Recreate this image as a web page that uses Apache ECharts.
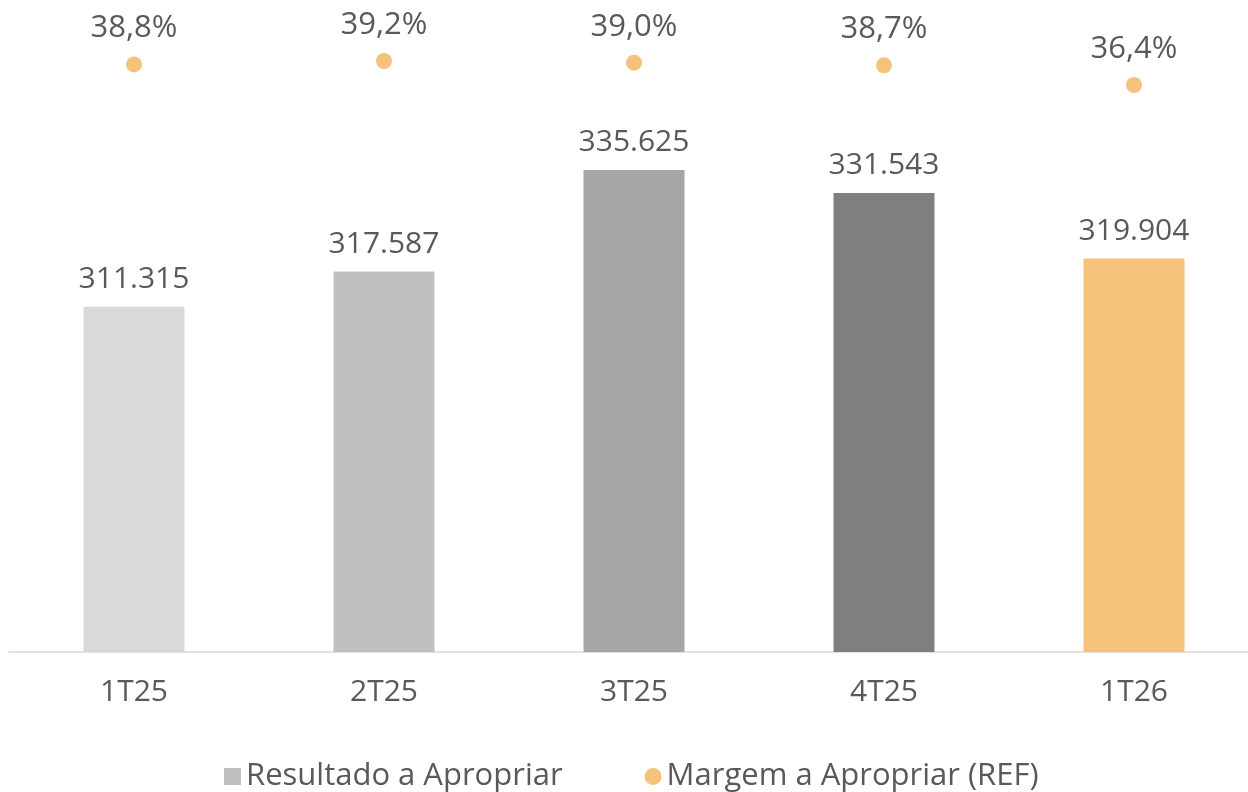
<!DOCTYPE html>
<html>
<head>
<meta charset="utf-8">
<script src="https://cdn.jsdelivr.net/npm/echarts@6/dist/echarts.min.js"></script>
<style>html,body{margin:0;padding:0;background:#fff;overflow:hidden}#c{width:1262px;height:792px}</style>
</head>
<body>
<div id="c"></div>
<script>
const categories = ['1T25', '2T25', '3T25', '4T25', '1T26'];
const resultado = [311315, 317587, 335625, 331543, 319904];
const margem = [38.8, 39.2, 39.0, 38.7, 36.4];
const barColors = ['#d9d9d9', '#bfbfbf', '#a6a6a6', '#7f7f7f', '#f4c27a'];
const seriesNames = ['Resultado a Apropriar', 'Margem a Apropriar (REF)'];

const FONT = '"Open Sans", "Noto Sans", sans-serif';
const TXT = '#595959';

const chart = echarts.init(document.getElementById('c'), null, {renderer: 'canvas'});
chart.setOption({
  animation: false,
  backgroundColor: '#ffffff',
  textStyle: {fontFamily: FONT},
  grid: {left: 9, width: 1250, top: 40, height: 612},
  legend: {
    left: 219, top: 756,
    itemWidth: 17, itemHeight: 17, itemGap: 82,
    textStyle: {fontFamily: FONT, fontSize: 31, color: TXT, lineHeight: 30},
    data: [{name: seriesNames[0], icon: 'rect'}, {name: seriesNames[1], icon: 'circle'}]
  },
  xAxis: {
    type: 'category', data: categories,
    axisLine: {onZero: false, lineStyle: {color: '#d9d9d9', width: 1.5}},
    axisTick: {show: false},
    axisLabel: {fontFamily: FONT, fontSize: 30, color: TXT, margin: 25, lineHeight: 30}
  },
  yAxis: [
    {type: 'value', min: 250000, max: 358700, show: false, splitLine: {show: false}},
    {type: 'value', min: -29.75, max: 41.65, show: false, splitLine: {show: false}}
  ],
  series: [
    {
      name: seriesNames[0], type: 'bar', yAxisIndex: 0, barWidth: 101,
      itemStyle: {color: '#bfbfbf'},
      data: resultado.map((v, i) => ({value: v, itemStyle: {color: barColors[i]}})),
      label: {
        show: true, position: 'top', distance: 12,
        fontFamily: FONT, fontSize: 30, color: TXT, lineHeight: 30,
        formatter: p => p.value.toLocaleString('de-DE')
      }
    },
    {
      name: seriesNames[1], type: 'scatter', yAxisIndex: 1,
      symbol: 'circle', symbolSize: 16,
      itemStyle: {color: '#f4c27a', opacity: 1},
      data: margem,
      label: {
        show: true, position: 'top', distance: 13,
        fontFamily: FONT, fontSize: 31, color: TXT, lineHeight: 30,
        formatter: p => p.value.toFixed(1).replace('.', ',') + '%'
      }
    }
  ]
});
</script>
</body>
</html>
